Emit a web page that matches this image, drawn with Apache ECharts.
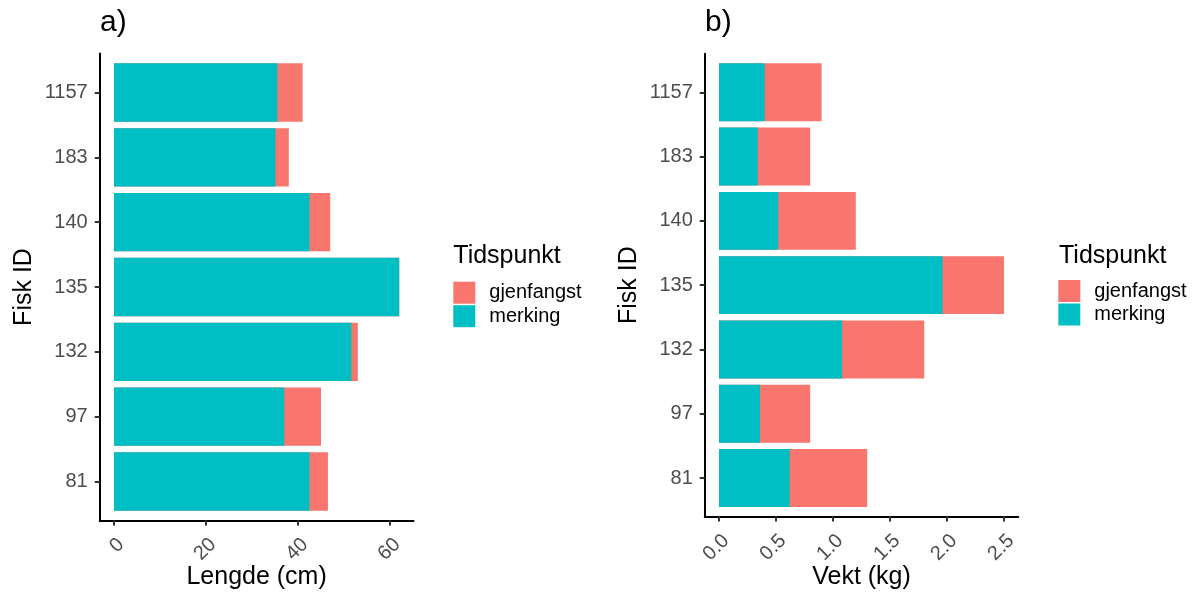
<!DOCTYPE html>
<html>
<head>
<meta charset="utf-8">
<script src="https://cdn.jsdelivr.net/npm/echarts@6/dist/echarts.min.js"></script>
<style>
  html, body { margin: 0; padding: 0; background: #ffffff; }
  #chart { width: 1197px; height: 594px; }
</style>
</head>
<body>
<div id="chart"></div>
<script>
// ---- data ----
const categories = ['81', '97', '132', '135', '140', '183', '1157'];
const lengdeMerking = [42.5, 37.0, 51.6, 62.0, 42.5, 35.1, 35.5];
const lengdeGjenfangst = [46.5, 45.0, 53.0, 62.0, 47.0, 38.0, 41.0];
const vektMerking = [0.62, 0.36, 1.08, 1.96, 0.52, 0.34, 0.40];
const vektGjenfangst = [1.30, 0.80, 1.80, 2.50, 1.20, 0.80, 0.90];
const lengdeTicks = [0, 20, 40, 60];
const vektTicks = [0, 0.5, 1.0, 1.5, 2.0, 2.5];
const seriesNames = ['gjenfangst', 'merking'];

// ---- styles ----
const RED = '#F8766D';
const TEAL = '#00BFC4';
const FONT = '"Liberation Sans", Arial, Helvetica, sans-serif';

// ggplot-like 5% expansion of continuous axes
function expand(maxVal) {
  const pad = maxVal * 0.05;
  return { min: -pad, max: maxVal + pad };
}
const lenMax = Math.max(...lengdeMerking, ...lengdeGjenfangst);
const vekMax = Math.max(...vektMerking, ...vektGjenfangst);
const lenRange = expand(lenMax);
const vekRange = expand(vekMax);

function barGridAxisY(gridIndex) {
  return {
    type: 'category', gridIndex: gridIndex, data: categories,
    axisLine: { show: false, onZero: false },
    axisTick: { show: true, alignWithLabel: true, length: 5, lineStyle: { color: '#333333', width: 2 } },
    axisLabel: { fontSize: 20, color: '#4D4D4D', margin: 12, fontFamily: FONT },
    splitLine: { show: false }
  };
}
function frameAxisY(gridIndex) {
  return {
    type: 'value', gridIndex: gridIndex, min: 0, max: 1,
    axisLine: { show: true, onZero: false, lineStyle: { color: '#000000', width: 2 } },
    axisTick: { show: false }, axisLabel: { show: false }, splitLine: { show: false },
    name: 'Fisk ID', nameLocation: 'middle', nameGap: 63, nameRotate: 90, nameMoveOverlap: false,
    nameTextStyle: { fontSize: 25, color: '#000000', fontFamily: FONT }
  };
}
function frameAxisX(gridIndex, range, ticks, name, nameGap, fmt) {
  return {
    type: 'value', gridIndex: gridIndex, min: range.min, max: range.max,
    axisLine: { show: true, onZero: false, lineStyle: { color: '#000000', width: 2 } },
    axisTick: { show: true, length: 5, customValues: ticks, lineStyle: { color: '#333333', width: 2 } },
    axisLabel: {
      customValues: ticks, rotate: 45, align: 'right', verticalAlign: 'top', margin: 14,
      fontSize: 20, color: '#4D4D4D', fontFamily: FONT, formatter: fmt
    },
    splitLine: { show: false },
    name: name, nameLocation: 'middle', nameGap: nameGap, nameMoveOverlap: false,
    nameTextStyle: { fontSize: 25, color: '#000000', fontFamily: FONT }
  };
}
function hiddenX(gridIndex, range) {
  return { type: 'value', gridIndex: gridIndex, min: range.min, max: range.max, show: false,
           axisLine: { onZero: false }, splitLine: { show: false } };
}
function legendFor(left, top) {
  return {
    orient: 'vertical', left: left, top: top, padding: 0,
    itemWidth: 22, itemHeight: 22, itemGap: 1.5, icon: 'rect',
    selectedMode: false, data: seriesNames,
    textStyle: { fontSize: 20, color: '#000000', fontFamily: FONT, padding: [0, 0, 0, 9] }
  };
}
function barSeries(name, data, color, axisIdx) {
  return {
    type: 'bar', name: name, data: data,
    xAxisIndex: axisIdx, yAxisIndex: axisIdx,
    barWidth: '90%', barGap: '-100%',
    itemStyle: { color: color },
    emphasis: { disabled: true },
    animation: false
  };
}

const chart = echarts.init(document.getElementById('chart'), null, { renderer: 'canvas' });
chart.setOption({
  backgroundColor: '#ffffff',
  animation: false,
  textStyle: { fontFamily: FONT },
  title: [
    { text: 'a)', left: 100, top: 7.6, padding: 0, textStyle: { fontSize: 30, fontWeight: 'normal', color: '#000000', fontFamily: FONT } },
    { text: 'b)', left: 705, top: 7.6, padding: 0, textStyle: { fontSize: 30, fontWeight: 'normal', color: '#000000', fontFamily: FONT } },
    { text: 'Tidspunkt', left: 453.3, top: 243.8, padding: 0, textStyle: { fontSize: 25, fontWeight: 'normal', color: '#000000', fontFamily: FONT } },
    { text: 'Tidspunkt', left: 1059, top: 243.8, padding: 0, textStyle: { fontSize: 25, fontWeight: 'normal', color: '#000000', fontFamily: FONT } }
  ],
  legend: [legendFor(453.3, 281.7), legendFor(1058.3, 280)],
  grid: [
    { left: 99.7, right: 783.5, top: 60.1, bottom: 80.1, outerBoundsMode: 'none', containLabel: false },
    { left: 99.7, right: 783.5, top: 53.6, bottom: 73.6, outerBoundsMode: 'none', containLabel: false },
    { left: 704.75, right: 178.75, top: 60.1, bottom: 83.8, outerBoundsMode: 'none', containLabel: false },
    { left: 704.75, right: 178.75, top: 53.7, bottom: 77.4, outerBoundsMode: 'none', containLabel: false }
  ],
  xAxis: [
    hiddenX(0, lenRange),
    frameAxisX(1, lenRange, lengdeTicks, 'Lengde (cm)', 44, v => String(v)),
    hiddenX(2, vekRange),
    frameAxisX(3, vekRange, vektTicks, 'Vekt (kg)', 48, v => Number(v).toFixed(1))
  ],
  yAxis: [
    barGridAxisY(0),
    frameAxisY(1),
    barGridAxisY(2),
    frameAxisY(3)
  ],
  series: [
    barSeries('gjenfangst', lengdeGjenfangst, RED, 0),
    barSeries('merking', lengdeMerking, TEAL, 0),
    barSeries('gjenfangst', vektGjenfangst, RED, 2),
    barSeries('merking', vektMerking, TEAL, 2)
  ]
});
</script>
</body>
</html>
